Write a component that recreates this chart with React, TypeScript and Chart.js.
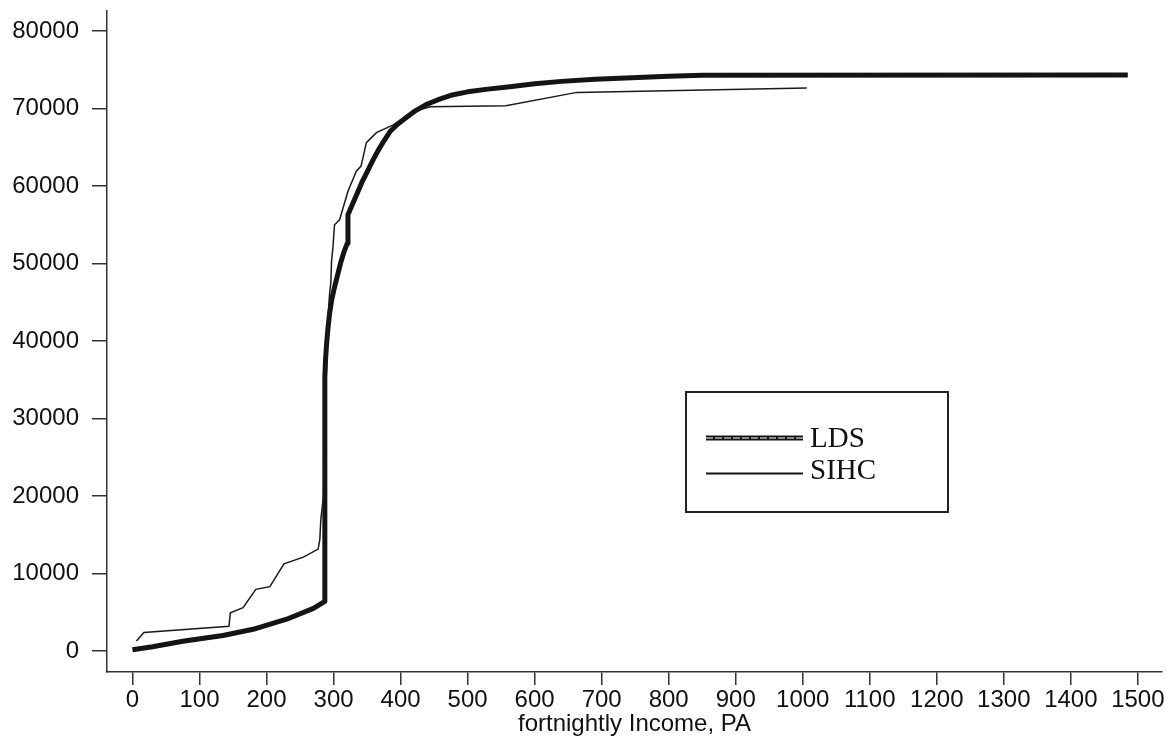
import React, { useEffect, useRef } from "react";
import { Chart, registerables } from "chart.js";

Chart.register(...registerables);

// LDS series (fortnightly income, cumulative count)
const ldsIncome = [0, 30, 75, 135, 180, 230, 270, 287, 287, 288, 289.5, 291.5, 294, 297, 301, 306, 311, 316, 320.5, 321.5, 325, 330, 336, 343, 350, 358, 366, 375, 385, 396, 408, 422, 438, 455, 475, 500, 530, 563, 600, 640, 690, 745, 800, 850, 1485];
const ldsCount = [150, 550, 1250, 2000, 2800, 4100, 5500, 6400, 35300, 37500, 39500, 41500, 43500, 45200, 46800, 48500, 50200, 51600, 52600, 56300, 57000, 58000, 59200, 60600, 61800, 63200, 64500, 65800, 67100, 68000, 68800, 69700, 70500, 71100, 71700, 72150, 72500, 72800, 73200, 73500, 73780, 73970, 74150, 74300, 74320];

// SIHC series
const sihcIncome = [6, 17, 144, 146, 165, 184, 205, 226, 255, 277, 279.5, 281, 285, 288, 291, 294, 296, 297, 299, 301.5, 309, 321.5, 334, 341, 349, 364, 389, 394, 420, 444, 557, 663, 1006];
const sihcCount = [1300, 2390, 3200, 4930, 5580, 7960, 8300, 11250, 12110, 13150, 14360, 16950, 20000, 32000, 42000, 46000, 47600, 50300, 52000, 55000, 55640, 59330, 61920, 62570, 65590, 66890, 67890, 68180, 69600, 70220, 70350, 72080, 72630];

const xTicks = [0, 100, 200, 300, 400, 500, 600, 700, 800, 900, 1000, 1100, 1200, 1300, 1400, 1500];
const yTicks = [0, 10000, 20000, 30000, 40000, 50000, 60000, 70000, 80000];

const seriesNames = ["LDS", "SIHC"];
const xTitle = "fortnightly Income, PA";

const SANS = '"Liberation Sans", Arial, sans-serif';
const SERIF = '"Liberation Serif", "Times New Roman", serif';

const overlayPlugin = {
  id: "overlay",
  afterDraw(chart: any) {
    const ctx = chart.ctx;
    const area = chart.chartArea;
    ctx.save();
    // x-axis title
    ctx.fillStyle = "#111";
    ctx.font = `24px ${SANS}`;
    ctx.textAlign = "center";
    ctx.textBaseline = "alphabetic";
    ctx.fillText(xTitle, (area.left + area.right) / 2, 731);

    // legend box
    ctx.strokeStyle = "#222";
    ctx.lineWidth = 2;
    ctx.strokeRect(686, 392, 262, 120);

    // LDS sample: thick line with white dashed core
    ctx.beginPath();
    ctx.moveTo(706, 438);
    ctx.lineTo(803, 438);
    ctx.lineWidth = 5;
    ctx.strokeStyle = "#151515";
    ctx.stroke();
    ctx.beginPath();
    ctx.setLineDash([7, 2]);
    ctx.moveTo(706, 438);
    ctx.lineTo(803, 438);
    ctx.lineWidth = 1;
    ctx.strokeStyle = "#ffffff";
    ctx.stroke();
    ctx.setLineDash([]);

    // SIHC sample
    ctx.beginPath();
    ctx.moveTo(706, 473.5);
    ctx.lineTo(803, 473.5);
    ctx.lineWidth = 2;
    ctx.strokeStyle = "#151515";
    ctx.stroke();

    ctx.fillStyle = "#111";
    ctx.font = `29px ${SERIF}`;
    ctx.textAlign = "left";
    ctx.fillText(seriesNames[0], 810, 447);
    ctx.fillText(seriesNames[1], 810, 479);
    ctx.restore();
  },
};

export default function App() {
  const ref = useRef<HTMLCanvasElement>(null);
  useEffect(() => {
    if (!ref.current) return;
    const lds = ldsIncome.map((x, i) => ({ x, y: ldsCount[i] }));
    const sihc = sihcIncome.map((x, i) => ({ x, y: sihcCount[i] }));
    const axisColor = "#333";
    const chart = new Chart(ref.current, {
      type: "line",
      data: {
        datasets: [
          {
            label: seriesNames[0],
            data: lds,
            borderColor: "#141414",
            borderWidth: 5,
            pointRadius: 0,
            tension: 0,
            fill: false,
            borderJoinStyle: "round",
            order: 2,
          },
          {
            label: seriesNames[1],
            data: sihc,
            borderColor: "#1a1a1a",
            borderWidth: 1.5,
            pointRadius: 0,
            tension: 0,
            fill: false,
            order: 1,
          },
        ],
      },
      options: {
        animation: false,
        responsive: false,
        events: [],
        layout: { padding: { top: 11, right: 4, left: 0, bottom: 0 } },
        plugins: {
          legend: { display: false },
          tooltip: { enabled: false },
          title: { display: false },
        },
        scales: {
          x: {
            type: "linear",
            min: -38,
            max: 1536,
            afterBuildTicks: (scale: any) => {
              scale.ticks = xTicks.map((v) => ({ value: v }));
            },
            afterFit: (scale: any) => {
              scale.height = 64;
              scale.paddingLeft = 0;
              scale.paddingRight = 0;
            },
            ticks: {
              autoSkip: false,
              maxRotation: 0,
              padding: 1,
              color: "#111",
              font: { family: SANS, size: 24 },
              callback: (v: any) => String(v),
            },
            grid: {
              display: true,
              drawOnChartArea: false,
              drawTicks: true,
              tickLength: 13,
              color: axisColor,
              lineWidth: 1.5,
            },
            border: { display: true, color: axisColor, width: 1.5 },
          },
          y: {
            type: "linear",
            min: -2710,
            max: 82580,
            afterBuildTicks: (scale: any) => {
              scale.ticks = yTicks.map((v) => ({ value: v }));
            },
            afterFit: (scale: any) => {
              scale.width = 107;
              scale.paddingTop = 0;
              scale.paddingBottom = 0;
            },
            ticks: {
              autoSkip: false,
              padding: 13,
              color: "#111",
              font: { family: SANS, size: 24 },
              callback: (v: any) => String(v),
            },
            grid: {
              display: true,
              drawOnChartArea: false,
              drawTicks: true,
              tickLength: 15,
              color: axisColor,
              lineWidth: 1.5,
            },
            border: { display: true, color: axisColor, width: 1.5 },
          },
        },
      },
      plugins: [overlayPlugin],
    });
    return () => chart.destroy();
  }, []);

  return (
    <div style={{ position: "fixed", left: 0, top: 0, width: 1166, height: 736, background: "#fff" }}>
      <canvas ref={ref} width={1166} height={736} style={{ display: "block" }} />
    </div>
  );
}
